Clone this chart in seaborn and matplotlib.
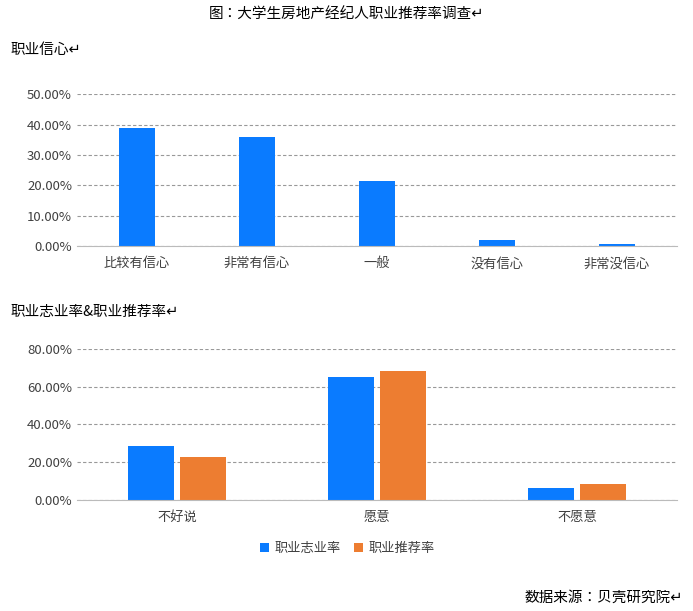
import matplotlib
matplotlib.use("Agg")
import glob
import matplotlib.pyplot as plt
from matplotlib import font_manager
import seaborn as sns
import pandas as pd
from matplotlib.ticker import PercentFormatter

cjk_name = None
for pat in ["/usr/share/fonts/**/NotoSansCJK*.tt*", "/usr/share/fonts/**/NotoSansCJK*.otf",
            "/usr/share/fonts/**/*CJK*", "/usr/local/share/fonts/**/*CJK*", "/**/NotoSansCJK*"]:
    files = glob.glob(pat, recursive=True)
    for f in files:
        try:
            font_manager.fontManager.addfont(f)
        except Exception:
            pass
    if files:
        break
for f in font_manager.fontManager.ttflist:
    if "CJK SC" in f.name:
        cjk_name = f.name
        break
if cjk_name is None:
    for f in font_manager.fontManager.ttflist:
        if "CJK" in f.name:
            cjk_name = f.name
            break
plt.rcParams["font.family"] = [cjk_name or "Noto Sans CJK SC", "DejaVu Sans"]

conf_cats = ["比较有信心", "非常有信心", "一般", "没有信心", "非常没信心"]
conf_vals = [0.39, 0.358, 0.215, 0.02, 0.008]

will_cats = ["不好说", "愿意", "不愿意"]
series_names = ["职业志业率", "职业推荐率"]
zhiye_vals = [0.285, 0.65, 0.06]
tuijian_vals = [0.225, 0.685, 0.085]

blue = "#0A7BFF"
orange = "#ED7D31"

fig = plt.figure(figsize=(6.93, 6.11), dpi=100)

def style(ax, ymax, step):
    ax.set_ylim(0, ymax)
    ax.set_yticks([i * step for i in range(int(round(ymax / step)) + 1)])
    ax.yaxis.set_major_formatter(PercentFormatter(1.0, decimals=2))
    ax.grid(axis="y", linestyle=(0, (3, 2)), color="#999999", linewidth=0.8)
    ax.set_axisbelow(True)
    for s in ["top", "right", "left"]:
        ax.spines[s].set_visible(False)
    ax.spines["bottom"].set_color("#BBBBBB")
    ax.tick_params(length=0, labelsize=9.5, colors="#404040")
    ax.tick_params(axis="x", pad=8)
    ax.set_xlabel("")
    ax.set_ylabel("")

ax1 = fig.add_axes([0.111, 0.597, 0.866, 0.249])
df1 = pd.DataFrame({"cat": conf_cats, "val": conf_vals})
sns.barplot(data=df1, x="cat", y="val", color=blue, width=0.3, saturation=1, ax=ax1)
style(ax1, 0.5, 0.1)

ax2 = fig.add_axes([0.111, 0.182, 0.866, 0.247])
df2 = pd.DataFrame({
    "cat": will_cats * 2,
    "series": [series_names[0]] * 3 + [series_names[1]] * 3,
    "val": zhiye_vals + tuijian_vals,
})
sns.barplot(data=df2, x="cat", y="val", hue="series", palette=[blue, orange],
            width=0.52, gap=0.12, saturation=1, ax=ax2)
style(ax2, 0.8, 0.2)
ax2.legend(loc="upper center", bbox_to_anchor=(0.45, -0.2), ncol=2, frameon=False,
           fontsize=9.5, handlelength=0.7, handleheight=0.7, columnspacing=1.0,
           handletextpad=0.4, labelcolor="#404040")

fig.text(0.5, 0.975, "图：大学生房地产经纪人职业推荐率调查↵", ha="center", va="center", fontsize=10.5)
fig.text(0.015, 0.918, "职业信心↵", ha="left", va="center", fontsize=10.5)
fig.text(0.015, 0.49, "职业志业率&职业推荐率↵", ha="left", va="center", fontsize=10.5)
fig.text(0.985, 0.022, "数据来源：贝壳研究院↵", ha="right", va="center", fontsize=10.5)

fig.savefig("out.png", dpi=100)
